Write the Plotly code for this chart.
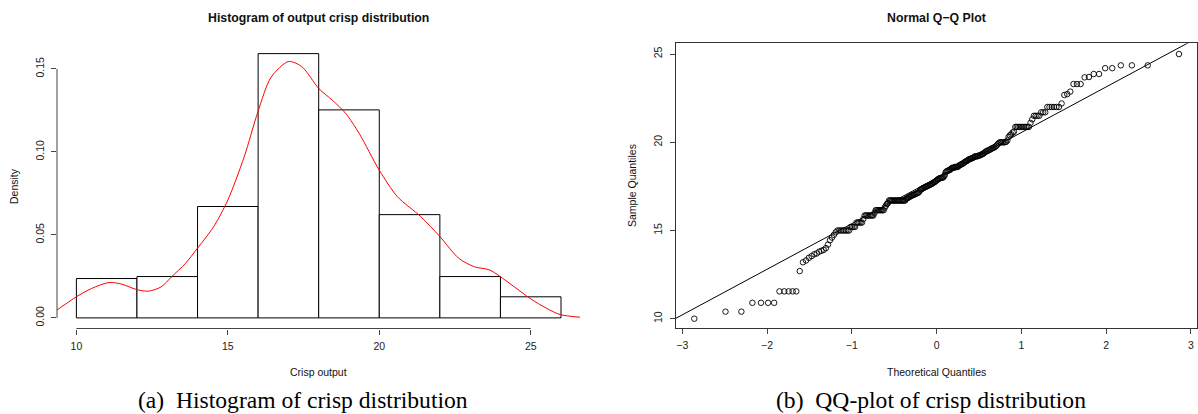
import plotly.graph_objects as go
from statistics import NormalDist

W, H = 1198, 414

# ---------------- data: histogram (a) ----------------
hist_left_edges = [10, 12, 14, 16, 18, 20, 22, 24]
bin_width = 2
hist_density = [0.0237, 0.0249, 0.0671, 0.1592, 0.1253, 0.0622, 0.0249, 0.0127]

kde_x = [9.32, 10.0, 10.5, 11.08, 11.5, 11.98, 12.38, 12.8, 13.14, 13.6, 13.99,
         14.53, 15.0, 15.54, 15.99, 16.43, 17.0, 17.44, 18.01, 18.46, 18.9, 19.34,
         20.0, 20.6, 21.37, 22.0, 22.63, 23.14, 23.65, 24.31, 24.98, 25.53, 25.97, 26.63]
kde_y = [0.0042, 0.0127, 0.0177, 0.0213, 0.0203, 0.0171, 0.0161, 0.0187, 0.0247, 0.0328, 0.0418,
         0.0549, 0.071, 0.097, 0.124, 0.145, 0.1544, 0.1514, 0.138, 0.131, 0.123, 0.111,
         0.089, 0.073, 0.061, 0.049, 0.0358, 0.0308, 0.0288, 0.0207, 0.0117, 0.0057, 0.002, 0.0004]

hist_xticks = [10, 15, 20, 25]
hist_yticks = [0.0, 0.05, 0.10, 0.15]
hist_yticktext = ["0.00", "0.05", "0.10", "0.15"]

# ---------------- data: QQ plot (b) ----------------
# sorted sample values as (value, repeat count) runs
qq_values = [10.0, 10.4, 10.9, 11.55, 12.7,
             13.2, 13.3, 13.45, 13.55, 13.65, 13.7, 13.8, 13.85, 13.9, 14.0, 14.2, 14.45,
             14.6, 14.75, 14.9, 15.0, 15.2, 15.45, 15.65, 15.85, 16.0, 16.15,
             16.3, 16.4, 16.5, 16.55, 16.7,
             16.8, 16.82, 16.85, 16.9, 16.92, 16.95, 17.0, 17.02, 17.05, 17.08, 17.1, 17.12, 17.15, 17.2,
             17.3, 17.33, 17.36, 17.4, 17.42, 17.45, 17.48, 17.5, 17.52, 17.55, 17.58, 17.6, 17.62, 17.65,
             17.7, 17.72, 17.75, 17.8, 17.84, 17.88, 17.92,
             17.95, 17.97, 17.98, 18.0, 18.05, 18.15, 18.3,
             18.35, 18.38, 18.4, 18.42, 18.45, 18.5, 18.55,
             18.6, 18.65, 18.7, 18.72, 18.75, 18.78,
             18.8, 18.85, 18.9, 18.92, 18.95, 19.0, 19.03, 19.05, 19.07, 19.1, 19.12,
             19.15, 19.2, 19.22, 19.25, 19.26, 19.3, 19.32,
             19.35, 19.4, 19.45, 19.5, 19.55, 19.58,
             19.6, 19.65, 19.68, 19.7, 19.75, 19.8, 19.88, 19.95,
             20.0, 20.02, 20.1, 20.3, 20.4, 20.45, 20.55, 20.6,
             20.87, 21.1, 21.3, 21.5, 21.7, 22.0, 22.2,
             22.68, 22.73, 22.87, 23.3, 23.68, 23.7, 23.87, 24.2, 24.36, 25.0]
qq_counts = [1, 2, 4, 5, 1,
             1, 1, 1, 1, 1, 1, 1, 1, 1, 1, 1, 1,
             1, 1, 1, 8, 4, 5, 1, 8, 1, 8,
             1, 1, 1, 1, 17,
             1, 1, 1, 1, 1, 1, 2, 1, 1, 1, 1, 1, 1, 1,
             1, 1, 1, 1, 1, 1, 1, 1, 1, 1, 1, 1, 1, 1,
             1, 1, 1, 1, 1, 1, 1,
             1, 1, 1, 2, 1, 1, 1,
             1, 1, 1, 1, 1, 1, 3,
             4, 1, 1, 1, 1, 1,
             1, 1, 1, 1, 1, 1, 1, 1, 1, 1, 1,
             1, 3, 1, 1, 1, 1, 1,
             1, 1, 1, 2, 1, 1,
             1, 1, 1, 1, 1, 1, 1, 1,
             5, 1, 1, 1, 1, 1, 1, 1,
             10, 1, 1, 4, 3, 6, 1,
             1, 1, 1, 3, 1, 1, 2, 2, 3, 1]
qq_line_intercept = 17.97
qq_line_slope = 2.584

qq_xticks = [-3, -2, -1, 0, 1, 2, 3]
qq_xticktext = ["\u22123", "\u22122", "\u22121", "0", "1", "2", "3"]
qq_yticks = [10, 15, 20, 25]

# ---------------- derived ----------------
sample = []
for v, c in zip(qq_values, qq_counts):
    sample.extend([v] * c)
n = len(sample)
nd = NormalDist()
theo = [nd.inv_cdf((i + 0.5) / n) for i in range(n)]
line_x = [-3.3, 3.3]
line_y = [qq_line_intercept + qq_line_slope * x for x in line_x]

bin_centers = [e + bin_width / 2 for e in hist_left_edges]

FONT = "Liberation Sans, Arial, Helvetica, sans-serif"
SERIF = "Liberation Serif, Times New Roman, serif"
AX = "#444444"

fig = go.Figure()
fig.add_trace(go.Bar(x=bin_centers, y=hist_density, width=bin_width,
                     marker=dict(color="white", line=dict(color="black", width=1)),
                     xaxis="x", yaxis="y"))
fig.add_trace(go.Scatter(x=kde_x, y=kde_y, mode="lines",
                         line=dict(color="#ff0000", width=1, shape="spline", smoothing=0.8),
                         xaxis="x", yaxis="y"))
fig.add_trace(go.Scatter(x=line_x, y=line_y, mode="lines",
                         line=dict(color="black", width=1), xaxis="x2", yaxis="y2"))
fig.add_trace(go.Scatter(x=theo, y=sample, mode="markers",
                         marker=dict(symbol="circle-open", size=5.5, color="black",
                                     line=dict(width=0.9, color="black")),
                         xaxis="x2", yaxis="y2"))

tickfont = dict(family=FONT, size=10.5, color="#222222")
common = dict(showgrid=False, zeroline=False, ticks="outside", ticklen=5, tickwidth=1,
              tickcolor=AX, tickfont=tickfont)

fig.update_layout(
    width=W, height=H, margin=dict(l=0, r=0, t=0, b=0),
    paper_bgcolor="white", plot_bgcolor="white", showlegend=False,
    xaxis=dict(domain=[57 / W, 580.4 / W], range=[9.36, 26.64], anchor="y",
               tickvals=hist_xticks, showline=False, ticklabelstandoff=3, **common),
    yaxis=dict(domain=[1 - 328.5 / H, 1 - 43 / H], range=[-0.0064, 0.1656], anchor="x",
               tickvals=hist_yticks, ticktext=hist_yticktext, tickangle=-90,
               showline=False, ticklabelstandoff=3, **common),
    xaxis2=dict(domain=[675.5 / W, 1197.3 / W], range=[-3.08, 3.075], anchor="y2",
                tickvals=qq_xticks, ticktext=qq_xticktext, showline=True, mirror=True,
                linecolor="#333333", linewidth=1, ticklabelstandoff=3, **common),
    yaxis2=dict(domain=[1 - 327.7 / H, 1 - 43.3 / H], range=[9.49, 25.61], anchor="x2",
                tickvals=qq_yticks, tickangle=-90, showline=True, mirror=True,
                linecolor="#333333", linewidth=1, ticklabelstandoff=3, **common),
)

# R-style axis lines spanning first to last tick (left plot)
fig.add_shape(type="line", xref="x", yref="y domain", x0=min(hist_xticks), x1=max(hist_xticks),
              y0=0, y1=0, line=dict(color=AX, width=1))
fig.add_shape(type="line", xref="x domain", yref="y", x0=0, x1=0,
              y0=min(hist_yticks), y1=max(hist_yticks), line=dict(color=AX, width=1))


def ann(text, x, y, size, bold=False, angle=0, family=FONT, color="#111111"):
    fig.add_annotation(text=f"<b>{text}</b>" if bold else text, x=x / W, y=1 - y / H,
                       xref="paper", yref="paper", showarrow=False, textangle=angle,
                       xanchor="center", yanchor="middle",
                       font=dict(family=family, size=size, color=color))


ann("Histogram of output crisp distribution", 318.5, 18, 12.3, bold=True)
ann("Normal Q\u2212Q Plot", 936, 18, 12.3, bold=True)
ann("Crisp output", 318.5, 372, 10.5)
ann("Theoretical Quantiles", 936, 372, 10.5)
ann("Density", 14, 186, 10.5, angle=-90)
ann("Sample Quantiles", 632, 186, 10.5, angle=-90)
ann("(a)\u2002Histogram of crisp distribution", 302.5, 400, 23.6, family=SERIF, color="#000000")
ann("(b)\u2002QQ-plot of crisp distribution", 931, 400, 23.6, family=SERIF, color="#000000")

fig.write_html("out.html", config={"displayModeBar": False},
               post_script="document.body.style.margin='0';document.body.style.overflow='hidden';")
